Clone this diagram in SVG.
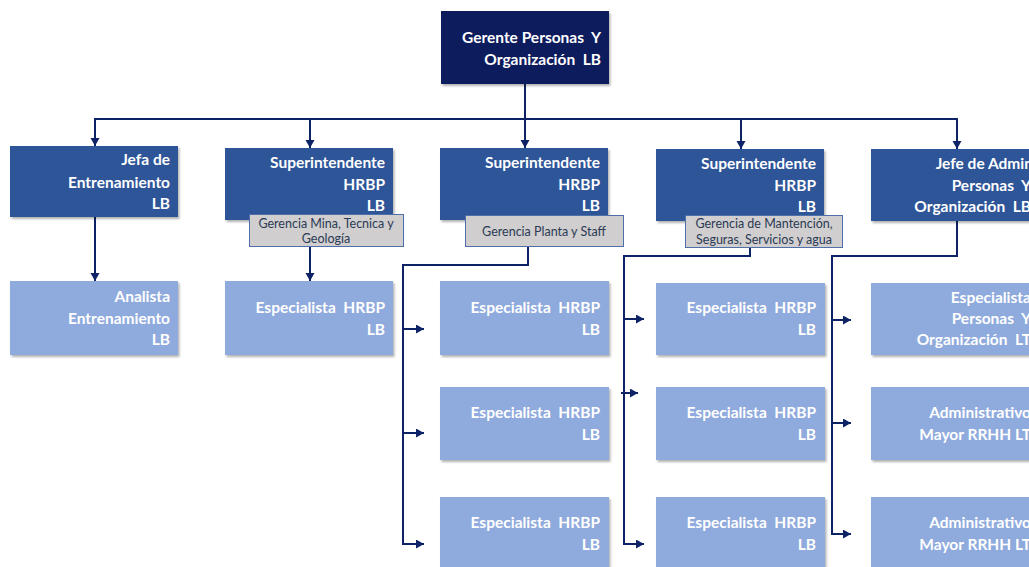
<svg xmlns="http://www.w3.org/2000/svg" width="1029" height="567" viewBox="0 0 1029 567">
<style>
.t{font-family:Lato,"Liberation Sans",sans-serif;font-weight:bold;font-size:15.5px;fill:#ffffff;text-anchor:end;white-space:pre}
.lbl{font-family:Lato,"Liberation Sans",sans-serif;font-size:12.5px;fill:#2b3a55;text-anchor:middle}
.top{fill:#0b1f5c}
.l2{fill:#2f5597}
.l3{fill:#8faadc}
.tag{fill:#d0cece;stroke:#4f6fa8;stroke-width:1}
.c{fill:none;stroke:#0d2366;stroke-width:2}
</style>
<defs>
<marker id="ah" markerUnits="userSpaceOnUse" markerWidth="10" markerHeight="10" refX="8" refY="4.5" orient="auto">
<path d="M0,0 L8,4.5 L0,9 Z" fill="#0d2366"/>
</marker>
<filter id="sh" x="-5%" y="-5%" width="115%" height="120%">
<feDropShadow dx="1.5" dy="2" stdDeviation="1.2" flood-color="#000" flood-opacity="0.3"/>
</filter>
</defs>
<rect width="1029" height="567" fill="#ffffff"/>

<g id="connectors">
<path class="c" d="M525,84 V119"/>
<path class="c" d="M95,119 H957"/>
<path class="c" d="M95,118 V146" marker-end="url(#ah)"/>
<path class="c" d="M310,118 V148" marker-end="url(#ah)"/>
<path class="c" d="M525,118 V148" marker-end="url(#ah)"/>
<path class="c" d="M741,118 V149" marker-end="url(#ah)"/>
<path class="c" d="M957,118 V149" marker-end="url(#ah)"/>
<path class="c" d="M95,217 V281" marker-end="url(#ah)"/>
<path class="c" d="M310,247 V281" marker-end="url(#ah)"/>
<path class="c" d="M528,246 V265 H403 V544 H424" marker-end="url(#ah)"/>
<path class="c" d="M403,329 H424" marker-end="url(#ah)"/>
<path class="c" d="M403,433 H424" marker-end="url(#ah)"/>
<path class="c" d="M750,248 V256 H624 V544 H644" marker-end="url(#ah)"/>
<path class="c" d="M624,319 H644" marker-end="url(#ah)"/>
<path class="c" d="M621,393 H638" marker-end="url(#ah)"/>
<path class="c" d="M957,221 V256 H832 V534 H851" marker-end="url(#ah)"/>
<path class="c" d="M832,320 H851" marker-end="url(#ah)"/>
<path class="c" d="M832,423 H851" marker-end="url(#ah)"/>
</g>

<g id="gerente">
<rect class="top" x="441" y="11" width="168" height="73" filter="url(#sh)"/>
<text class="t" x="601" y="43">Gerente Personas  Y</text>
<text class="t" x="601" y="65">Organización  LB</text>
</g>

<g id="jefa-entrenamiento">
<rect class="l2" x="10" y="146" width="168" height="71" filter="url(#sh)"/>
<text class="t" x="170" y="165">Jefa de</text>
<text class="t" x="170" y="188">Entrenamiento</text>
<text class="t" x="170" y="209">LB</text>
</g>

<g id="super-mina">
<rect class="l2" x="225" y="148" width="168" height="72" filter="url(#sh)"/>
<text class="t" x="385" y="168">Superintendente</text>
<text class="t" x="385" y="190">HRBP</text>
<text class="t" x="385" y="211">LB</text>
<rect class="tag" x="249.5" y="214.5" width="154" height="32"/>
<text class="lbl" x="326" y="228">Gerencia Mina, Tecnica y</text>
<text class="lbl" x="326" y="243">Geología</text>
</g>

<g id="super-planta">
<rect class="l2" x="440" y="148" width="168" height="72" filter="url(#sh)"/>
<text class="t" x="600" y="168">Superintendente</text>
<text class="t" x="600" y="190">HRBP</text>
<text class="t" x="600" y="211">LB</text>
<rect class="tag" x="465.5" y="215.5" width="158" height="31"/>
<text class="lbl" x="544" y="236">Gerencia Planta y Staff</text>
</g>

<g id="super-mantencion">
<rect class="l2" x="656" y="149" width="168" height="72" filter="url(#sh)"/>
<text class="t" x="816" y="169">Superintendente</text>
<text class="t" x="816" y="191">HRBP</text>
<text class="t" x="816" y="212">LB</text>
<rect class="tag" x="685.5" y="215.5" width="157" height="32"/>
<text class="lbl" x="764" y="228">Gerencia de Mantención,</text>
<text class="lbl" x="764" y="244">Seguras, Servicios y agua</text>
</g>

<g id="jefe-admin">
<rect class="l2" x="871" y="149" width="168" height="72" filter="url(#sh)"/>
<text class="t" x="1033" y="169">Jefe de Admin</text>
<text class="t" x="1031" y="191">Personas  Y</text>
<text class="t" x="1031" y="212">Organización  LB</text>
</g>

<g id="analista-entrenamiento">
<rect class="l3" x="10" y="281" width="168" height="74" filter="url(#sh)"/>
<text class="t" x="170" y="302">Analista</text>
<text class="t" x="170" y="324">Entrenamiento</text>
<text class="t" x="170" y="345">LB</text>
</g>

<g id="esp-mina">
<rect class="l3" x="225" y="281" width="168" height="74" filter="url(#sh)"/>
<text class="t" x="385" y="313">Especialista  HRBP</text>
<text class="t" x="385" y="335">LB</text>
</g>

<g id="esp-planta-1">
<rect class="l3" x="440" y="281" width="169" height="74" filter="url(#sh)"/>
<text class="t" x="600" y="313">Especialista  HRBP</text>
<text class="t" x="600" y="335">LB</text>
</g>
<g id="esp-planta-2">
<rect class="l3" x="440" y="387" width="169" height="73" filter="url(#sh)"/>
<text class="t" x="600" y="418">Especialista  HRBP</text>
<text class="t" x="600" y="440">LB</text>
</g>
<g id="esp-planta-3">
<rect class="l3" x="440" y="497" width="169" height="80" filter="url(#sh)"/>
<text class="t" x="600" y="528">Especialista  HRBP</text>
<text class="t" x="600" y="550">LB</text>
</g>

<g id="esp-mant-1">
<rect class="l3" x="656" y="283" width="169" height="72" filter="url(#sh)"/>
<text class="t" x="816" y="313">Especialista  HRBP</text>
<text class="t" x="816" y="335">LB</text>
</g>
<g id="esp-mant-2">
<rect class="l3" x="656" y="387" width="169" height="73" filter="url(#sh)"/>
<text class="t" x="816" y="418">Especialista  HRBP</text>
<text class="t" x="816" y="440">LB</text>
</g>
<g id="esp-mant-3">
<rect class="l3" x="656" y="497" width="169" height="80" filter="url(#sh)"/>
<text class="t" x="816" y="528">Especialista  HRBP</text>
<text class="t" x="816" y="550">LB</text>
</g>

<g id="esp-personas">
<rect class="l3" x="871" y="283" width="168" height="72" filter="url(#sh)"/>
<text class="t" x="1031" y="303">Especialista</text>
<text class="t" x="1031" y="324">Personas  Y</text>
<text class="t" x="1031" y="345">Organización  LT</text>
</g>
<g id="admin-rrhh-1">
<rect class="l3" x="871" y="387" width="168" height="73" filter="url(#sh)"/>
<text class="t" x="1031" y="418">Administrativo</text>
<text class="t" x="1031" y="440">Mayor RRHH LT</text>
</g>
<g id="admin-rrhh-2">
<rect class="l3" x="871" y="497" width="168" height="80" filter="url(#sh)"/>
<text class="t" x="1031" y="528">Administrativo</text>
<text class="t" x="1031" y="550">Mayor RRHH LT</text>
</g>
</svg>
